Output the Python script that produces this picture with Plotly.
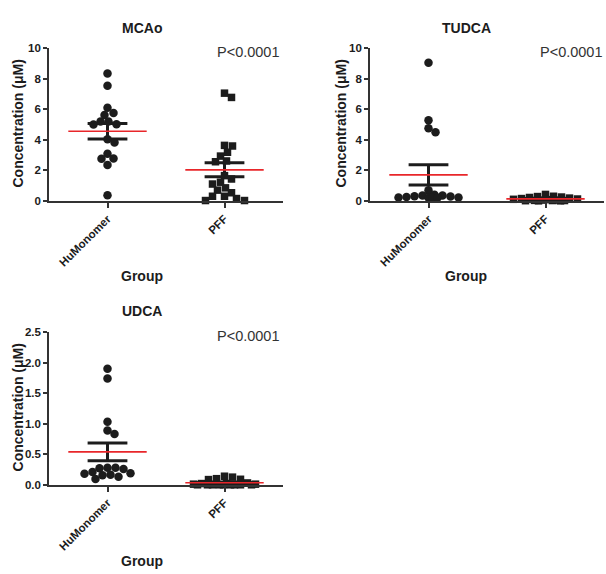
import math
import plotly.graph_objects as go

# ---------------- data ----------------
groups = ["HuMonomer", "PFF"]
panel_titles = ["MCAo", "TUDCA", "UDCA"]
p_text = "P<0.0001"

mcao_hu = [8.33, 7.54, 6.09, 5.75, 5.62, 5.19, 5.02, 5.19, 5.00, 4.04,
           3.82, 3.08, 2.78, 2.76, 2.35, 0.36]
mcao_pff = [7.05, 6.77, 3.63, 3.59, 3.18, 2.93, 2.61, 2.56, 1.65, 1.43,
            1.10, 1.22, 0.85, 0.70, 0.30, 0.15, 0.02, 0.02, 0.30, 0.53]

tudca_hu = [9.04, 5.28, 4.76, 4.49, 0.70, 0.22, 0.35, 0.40, 0.30, 0.25,
            0.20, 0.28, 0.35, 0.18, 0.22, 0.20]
tudca_pff = [0.42, 0.30, 0.25, 0.22, 0.28, 0.18, 0.15, 0.12, 0.10, 0.08,
             0.05, 0.05, 0.03, 0.02, 0.02, 0.01, 0.00, 0.00]

udca_hu = [1.90, 1.74, 1.03, 0.83, 0.89, 0.28, 0.27, 0.26, 0.28, 0.21,
           0.18, 0.155, 0.096, 0.13, 0.165, 0.19]
udca_pff = [0.14, 0.10, 0.085, 0.09, 0.125, 0.03, 0.02, 0.02, 0.01, 0.01,
            0.00, 0.00, 0.00, 0.00, 0.00, 0.00, 0.00, 0.00, 0.00]

y_ranges = [[0, 10], [0, 10], [0, 2.5]]
y_dticks = [2, 2, 0.5]
y_formats = ["d", "d", ".1f"]

# ---------------- layout geometry ----------------
W, H = 606, 574
# plot areas in pixels: (x0, x1, ytop, ybottom)
boxes = [(49, 283, 43, 199), (370, 604, 43, 199), (49, 283, 333, 489)]

FONT = "Liberation Sans, Arial, Helvetica, sans-serif"
INK = "#1c1c1c"
AX = "#333333"


def px_x(x):
    return x / W


def px_y(y):
    return 1 - y / H


def mean_sem(v):
    n = len(v)
    m = sum(v) / n
    sd = math.sqrt(sum((a - m) ** 2 for a in v) / (n - 1))
    return m, sd / math.sqrt(n)


def swarm(vals, pxu, dmin=7.6, step=1.0, maxw=34):
    """Simple beeswarm: returns horizontal offsets in pixels."""
    order = sorted(range(len(vals)), key=lambda i: -vals[i])
    cands = [0.0]
    k = 1
    while k * step <= maxw:
        cands += [k * step, -k * step]
        k += 1
    placed = []
    xs = [0.0] * len(vals)
    for i in order:
        y = vals[i] * pxu
        chosen = None
        bestd, bestc = -1, 0.0
        for c in cands:
            d = min((math.hypot(c - px, y - py) for px, py in placed), default=1e9)
            if d >= dmin:
                chosen = c
                break
            if d > bestd + 0.5:
                bestd, bestc = d, c
        if chosen is None:
            chosen = bestc
        xs[i] = chosen
        placed.append((chosen, y))
    return xs


fig = go.Figure()
data = [(mcao_hu, mcao_pff), (tudca_hu, tudca_pff), (udca_hu, udca_pff)]
annotations = []

for p, (hu, pff) in enumerate(data):
    x0, x1, yt, yb = boxes[p]
    xpu = (x1 - x0) / 2.0  # px per category unit
    ypu = (yb - yt) / (y_ranges[p][1] - y_ranges[p][0])
    xa = "x" if p == 0 else f"x{p + 1}"
    ya = "y" if p == 0 else f"y{p + 1}"
    for gi, (vals, sym, sz) in enumerate([(hu, "circle", 8.5), (pff, "square", 7.5)]):
        offs = swarm(vals, ypu)
        fig.add_trace(go.Scatter(
            x=[gi + o / xpu for o in offs], y=vals, mode="markers",
            marker=dict(symbol=sym, size=sz, color=INK, line=dict(width=0)),
            cliponaxis=False, xaxis=xa, yaxis=ya, showlegend=False,
            hoverinfo="skip"))
    for gi, vals in enumerate([hu, pff]):
        m, se = mean_sem(vals)
        cap = 0.17
        bx = [gi - cap, gi + cap, None, gi, gi, None, gi - cap, gi + cap]
        by = [m + se, m + se, None, m + se, m - se, None, m - se, m - se]
        fig.add_trace(go.Scatter(
            x=bx, y=by, mode="lines", line=dict(color=INK, width=3),
            cliponaxis=False, xaxis=xa, yaxis=ya, showlegend=False,
            hoverinfo="skip"))
        fig.add_trace(go.Scatter(
            x=[gi - 0.335, gi + 0.335], y=[m, m], mode="lines",
            line=dict(color="#e8262a", width=1.6),
            cliponaxis=False, xaxis=xa, yaxis=ya, showlegend=False,
            hoverinfo="skip"))

    axis_common = dict(showline=True, linecolor=AX, linewidth=1.6,
                       ticks="outside", tickcolor=AX, tickwidth=1.6,
                       showgrid=False, zeroline=False)
    xkey = "xaxis" if p == 0 else f"xaxis{p + 1}"
    ykey = "yaxis" if p == 0 else f"yaxis{p + 1}"
    fig.update_layout(**{
        xkey: dict(domain=[px_x(x0), px_x(x1)], range=[-0.5, 1.5],
                   tickvals=[0, 1], ticktext=groups, tickangle=-45,
                   ticklen=5, anchor=ya,
                   tickfont=dict(family=FONT, size=11.5, color=INK, weight="bold"),
                   **axis_common),
        ykey: dict(domain=[px_y(yb), px_y(yt)], range=y_ranges[p],
                   dtick=y_dticks[p], tick0=0, tickformat=y_formats[p],
                   ticklen=4, anchor=xa,
                   tickfont=dict(family=FONT, size=11.5, color=INK, weight="bold"),
                   **axis_common),
    })

    # text labels
    title_x = [142, 466, 142][p]
    title_y = [22, 22, 312][p]
    group_y = [276, 276, 567][p]
    ytit_x = [18, 341, 18][p]
    ytit_y = [120, 120, 410][p]
    p_right = [282, 605, 282][p]
    p_y = [47, 47, 337][p]
    annotations += [
        dict(text=f"<b>{panel_titles[p]}</b>", x=px_x(title_x), y=px_y(title_y),
             font=dict(family=FONT, size=14, color=INK)),
        dict(text="<b>Group</b>", x=px_x(title_x), y=px_y(group_y),
             font=dict(family=FONT, size=14, color=INK)),
        dict(text="<b>Concentration (\u03bcM)</b>", x=px_x(ytit_x), y=px_y(ytit_y),
             textangle=-90, font=dict(family=FONT, size=14, color=INK)),
        dict(text=p_text, x=px_x(p_right), y=px_y(p_y), xanchor="right",
             font=dict(family=FONT, size=14.5, color="#333333")),
    ]

for a in annotations:
    a.setdefault("xanchor", "center")
    a.update(xref="paper", yref="paper", yanchor="middle", showarrow=False)

fig.update_layout(width=W, height=H, margin=dict(l=0, r=0, t=0, b=0),
                  paper_bgcolor="white", plot_bgcolor="white",
                  annotations=annotations, showlegend=False)

fig.write_html("out.html")
